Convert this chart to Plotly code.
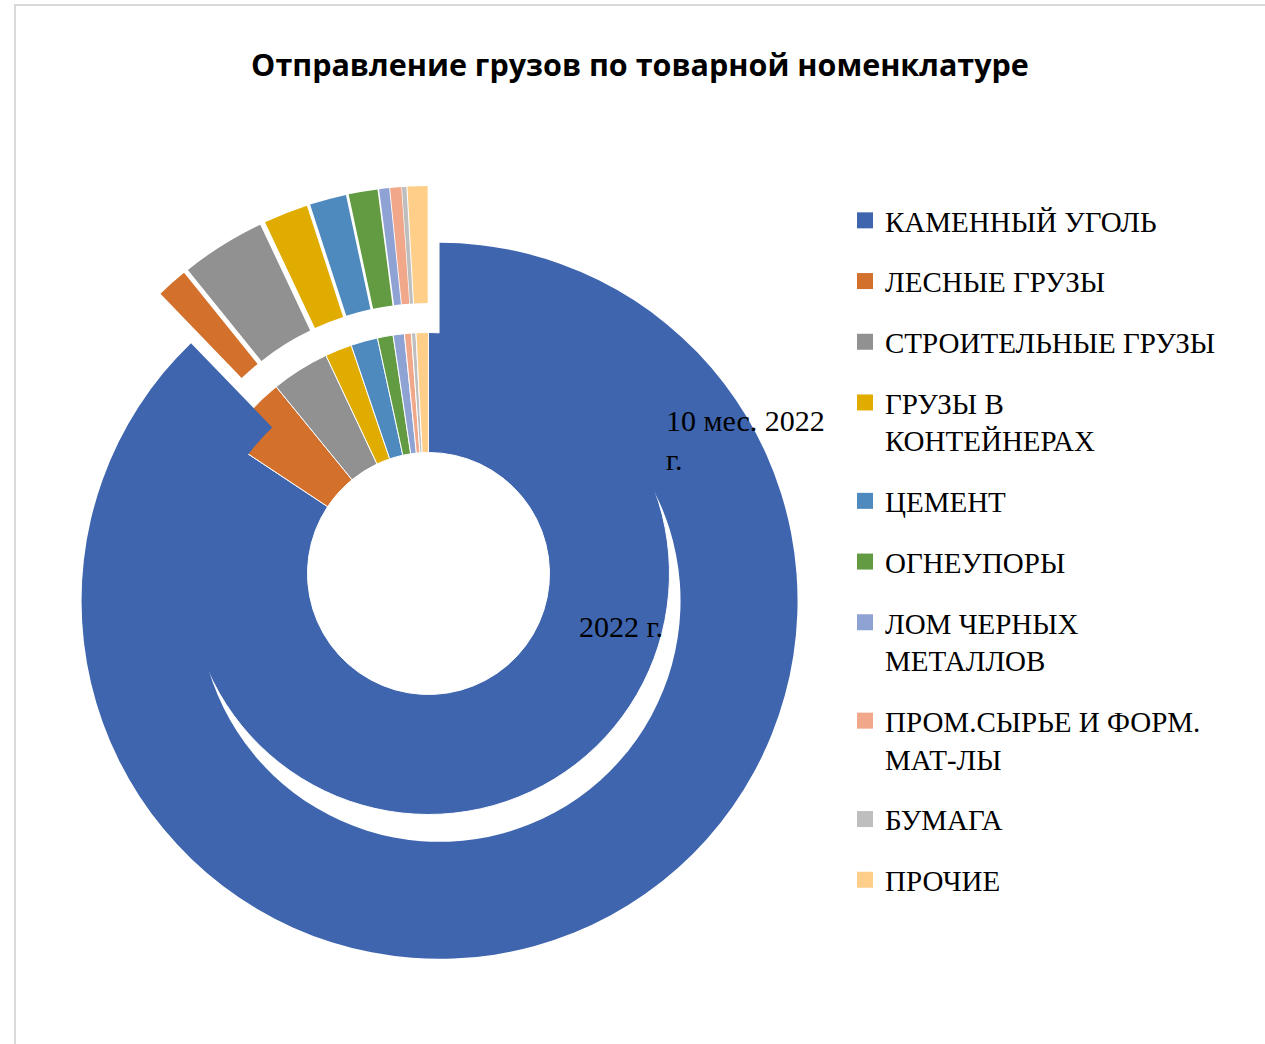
import plotly.graph_objects as go

# ---- data ----
categories = ["КАМЕННЫЙ УГОЛЬ", "ЛЕСНЫЕ ГРУЗЫ", "СТРОИТЕЛЬНЫЕ ГРУЗЫ", "ГРУЗЫ В КОНТЕЙНЕРАХ",
              "ЦЕМЕНТ", "ОГНЕУПОРЫ", "ЛОМ ЧЕРНЫХ МЕТАЛЛОВ", "ПРОМ.СЫРЬЕ И ФОРМ. МАТ-ЛЫ",
              "БУМАГА", "ПРОЧИЕ"]
legend_labels = ["КАМЕННЫЙ УГОЛЬ", "ЛЕСНЫЕ ГРУЗЫ", "СТРОИТЕЛЬНЫЕ ГРУЗЫ", "ГРУЗЫ В<br>КОНТЕЙНЕРАХ",
                 "ЦЕМЕНТ", "ОГНЕУПОРЫ", "ЛОМ ЧЕРНЫХ<br>МЕТАЛЛОВ", "ПРОМ.СЫРЬЕ И ФОРМ.<br>МАТ-ЛЫ",
                 "БУМАГА", "ПРОЧИЕ"]
series_inner_name = "2022 г."
series_outer_name = "10 мес. 2022 г."
values_2022 = [84.4, 4.8, 3.9, 1.8, 1.8, 1.05, 0.75, 0.47, 0.3, 0.83]
values_10m_2022 = [87.7, 1.4, 3.8, 2.0, 1.65, 1.3, 0.45, 0.5, 0.2, 0.9]
colors = ["#3E65AE", "#D3702C", "#919191", "#E1AC00", "#4E8ABE",
          "#629B41", "#8FA2D4", "#F1A78A", "#BEBEBE", "#FFCE89"]

W, H = 1265, 1044

def px_dom(cx, cy, half):
    return dict(x=[(cx - half) / W, (cx + half) / W],
                y=[1 - (cy + half) / H, 1 - (cy - half) / H])

CX, CY = 428.5, 573.5
R_OUT, R_MID, R_IN = 358.0, 241.0, 121.0
PULL = 29.5 / R_OUT

fig = go.Figure()

# inner ring (2022 г.)
fig.add_trace(go.Pie(
    labels=categories, values=values_2022, name=series_inner_name,
    sort=False, direction="clockwise", rotation=0,
    hole=R_IN / R_MID, textinfo="none", showlegend=False,
    marker=dict(colors=colors, line=dict(color="white", width=1)),
    domain=px_dom(CX, CY, R_MID),
))

# outer ring (10 мес. 2022 г.), all slices exploded
fig.add_trace(go.Pie(
    labels=categories, values=values_10m_2022, name=series_outer_name,
    sort=False, direction="clockwise", rotation=0,
    hole=R_MID / R_OUT, textinfo="none", showlegend=False,
    pull=[PULL] * len(categories),
    marker=dict(colors=colors, line=dict(color="white", width=0)),
    domain=px_dom(CX, CY, R_OUT * (1 + PULL)),
))

# legend entries
for lab, col in zip(legend_labels, colors):
    fig.add_trace(go.Scatter(
        x=[None], y=[None], mode="markers", name=lab, legendgroup=lab,
        marker=dict(symbol="square", size=19, color=col),
        showlegend=True, hoverinfo="skip",
    ))

LEG_FONT = dict(family="Liberation Serif", size=29, color="black")
LAB_FONT = dict(family="Liberation Serif", size=30, color="black")

fig.update_layout(
    width=W, height=H,
    margin=dict(l=0, r=0, t=0, b=0),
    paper_bgcolor="white", plot_bgcolor="white",
    xaxis=dict(visible=False), yaxis=dict(visible=False),
    title=dict(text="<b>Отправление грузов по товарной номенклатуре</b>",
               x=640 / W, y=1 - 65 / H, xanchor="center", yanchor="middle",
               xref="paper", yref="paper",
               font=dict(family="Open Sans", size=30.5, color="black")),
    legend=dict(x=845 / W, y=1 - 195 / H, xanchor="left", yanchor="top",
                font=LEG_FONT, valign="top", tracegroupgap=20,
                bgcolor="rgba(0,0,0,0)"),
    annotations=[
        dict(text="10 мес. 2022<br>г.", x=664 / W, y=1 - 402 / H, xref="paper", yref="paper",
             xanchor="left", yanchor="top", align="left", showarrow=False, font=LAB_FONT),
        dict(text="2022 г.", x=577 / W, y=1 - 626 / H, xref="paper", yref="paper",
             xanchor="left", yanchor="middle", align="left", showarrow=False, font=LAB_FONT),
    ],
    shapes=[dict(type="rect", xref="paper", yref="paper",
                 x0=15 / W, x1=1.02, y0=-0.02, y1=1 - 5 / H,
                 line=dict(color="#D9D9D9", width=2), fillcolor="rgba(0,0,0,0)", layer="below")],
)

fig.write_html("out.html", config={"displayModeBar": False},
               post_script="document.body.style.margin='0';")
